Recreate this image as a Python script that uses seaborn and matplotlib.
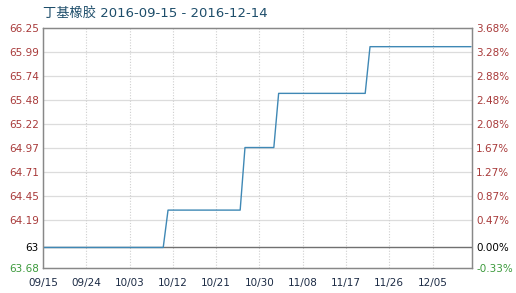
import matplotlib
matplotlib.use("Agg")
import matplotlib.pyplot as plt
import matplotlib.dates as mdates
import seaborn as sns
import pandas as pd

# ---- data ----
dates = ["2016-09-15", "2016-10-10", "2016-10-11", "2016-10-26", "2016-10-27",
         "2016-11-02", "2016-11-03", "2016-11-21", "2016-11-22", "2016-12-13"]
prices = [63.9, 63.9, 64.3, 64.3, 64.97, 64.97, 65.55, 65.55, 66.05, 66.05]
base_price = 63.9
left_ticks = [63.68, 63.9, 64.19, 64.45, 64.71, 64.97, 65.22, 65.48, 65.74, 65.99, 66.25]
left_labels = ["63.68", "63", "64.19", "64.45", "64.71", "64.97", "65.22", "65.48", "65.74", "65.99", "66.25"]
right_labels = ["-0.33%", "0.00%", "0.47%", "0.87%", "1.27%", "1.67%", "2.08%", "2.48%", "2.88%", "3.28%", "3.68%"]
x_tick_dates = ["2016-09-15", "2016-09-24", "2016-10-03", "2016-10-12", "2016-10-21",
                "2016-10-30", "2016-11-08", "2016-11-17", "2016-11-26", "2016-12-05"]
x_tick_labels = ["09/15", "09/24", "10/03", "10/12", "10/21", "10/30", "11/08", "11/17", "11/26", "12/05"]
title = "丁基橡胶 2016-09-15 - 2016-12-14"

df = pd.DataFrame({"date": pd.to_datetime(dates), "price": prices})

sns.set_theme(style="white")
plt.rcParams["font.family"] = ["DejaVu Sans", "Noto Sans CJK SC"]

fig = plt.figure(figsize=(5.16, 2.93), dpi=100)
ax = fig.add_axes([43 / 516, 25 / 293, 429 / 516, 240 / 293])

red = "#a83a3a"
green = "#3c9a3c"

# grid
for t in left_ticks[2:-1]:
    ax.axhline(t, color="#dcdcdc", lw=0.9, zorder=0)
xt = pd.to_datetime(x_tick_dates)
for d in xt[1:]:
    ax.axvline(d, color="#cfcfcf", lw=0.8, ls=(0, (1, 1.5)), zorder=0)
ax.axhline(base_price, color="#707070", lw=1.0, zorder=1)

sns.lineplot(data=df, x="date", y="price", ax=ax, color="#3f88b5", lw=1.0, zorder=3)

ax.set_xlim(pd.Timestamp("2016-09-15"), pd.Timestamp("2016-12-13") + pd.Timedelta(hours=5))
ax.set_ylim(63.68, 66.25)
ax.set_xlabel("")
ax.set_ylabel("")

ax.set_yticks(left_ticks)
ax.set_yticklabels(left_labels, fontsize=7.5)
for lab, txt in zip(ax.get_yticklabels(), left_labels):
    lab.set_color("black" if txt == "63" else (green if txt == "63.68" else red))

ax.set_xticks(xt)
ax.set_xticklabels(x_tick_labels, fontsize=7.5, color="#1c2b45")
ax.tick_params(axis="both", length=0, pad=3)
ax.tick_params(axis="x", pad=7)

ax2 = ax.twinx()
ax2.set_ylim(ax.get_ylim())
ax2.set_yticks(left_ticks)
ax2.set_yticklabels(right_labels, fontsize=7.5)
for lab, txt in zip(ax2.get_yticklabels(), right_labels):
    lab.set_color("black" if txt == "0.00%" else (green if txt.startswith("-") else red))
ax2.tick_params(axis="y", length=0, pad=3)
ax2.set_ylabel("")

for a in (ax, ax2):
    for s in a.spines.values():
        s.set_color("#888888")
        s.set_linewidth(0.9)

fig.text(43 / 516, 1 - 13 / 293, title, fontsize=9.5, color="#1d4d6a",
         va="center", ha="left", family=["DejaVu Sans", "Noto Sans CJK SC"])

fig.savefig("out.png", dpi=100)
